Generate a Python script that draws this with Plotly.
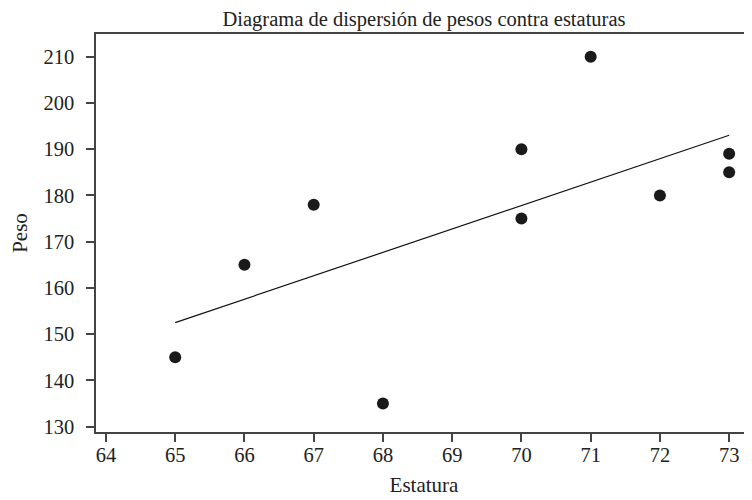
import plotly.graph_objects as go

estatura = [65, 66, 67, 68, 70, 70, 71, 72, 73, 73]
peso = [145, 165, 178, 135, 190, 175, 210, 180, 189, 185]
linea_x = [65, 73]
linea_y = [152.5, 193.0]
xticks = [64, 65, 66, 67, 68, 69, 70, 71, 72, 73]
yticks = [130, 140, 150, 160, 170, 180, 190, 200, 210]

font = "Liberation Serif"
fig = go.Figure()
fig.add_trace(go.Scatter(x=linea_x, y=linea_y, mode="lines",
                         line=dict(color="#111111", width=1.2), showlegend=False))
fig.add_trace(go.Scatter(x=estatura, y=peso, mode="markers",
                         marker=dict(color="#1a1a1a", size=12), showlegend=False))
fig.update_layout(
    width=752, height=500,
    margin=dict(l=88, r=8, t=26, b=76),
    paper_bgcolor="white", plot_bgcolor="white",
    font=dict(family=font, color="#222222", size=21),
    title=dict(text="Diagrama de dispersión de pesos contra estaturas",
               x=(424 - 8) / 752, xanchor="center", yref="container",
               y=1 - 11 / 500, yanchor="middle",
               font=dict(family=font, size=20.5, color="#222222")),
)
fig.update_xaxes(range=[63.856, 73.33], tickvals=xticks, ticks="outside", ticklen=8,
                 tickwidth=1.5, tickcolor="#444444", showline=True, linecolor="#444444",
                 linewidth=1.5, mirror=True, showgrid=False, zeroline=False,
                 ticklabelstandoff=-4,
                 title=dict(text="Estatura", standoff=12, font=dict(size=21)),
                 tickfont=dict(size=20.5))
fig.update_yaxes(range=[128.85, 214.9], tickvals=yticks, ticks="outside", ticklen=8,
                 tickwidth=1.5, tickcolor="#444444", showline=True, linecolor="#444444",
                 linewidth=1.5, showgrid=False, zeroline=False,
                 ticklabelstandoff=8,
                 title=dict(text="Peso", standoff=10, font=dict(size=21)),
                 tickfont=dict(size=20.5))
fig.write_html("out.html")
